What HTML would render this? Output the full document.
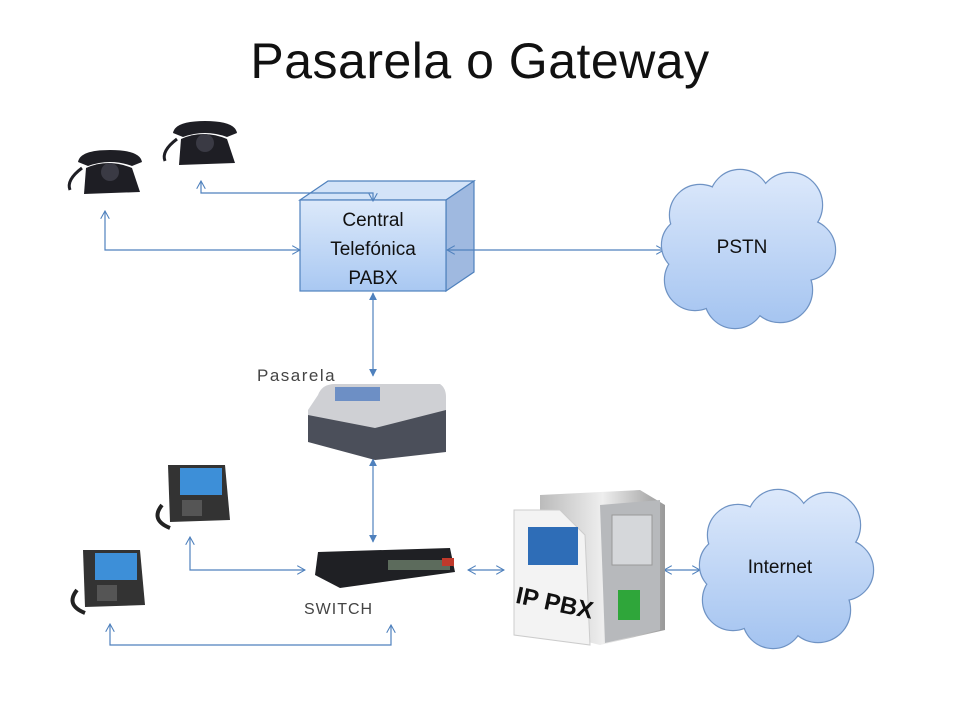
<!DOCTYPE html>
<html><head><meta charset="utf-8"><style>
html,body{margin:0;padding:0;background:#fff;}
svg{display:block;font-family:"Liberation Sans",sans-serif;}
</style></head><body>
<svg width="960" height="720" viewBox="0 0 960 720" xmlns="http://www.w3.org/2000/svg">
<defs>
<linearGradient id="bx" x1="0" y1="0" x2="0" y2="1"><stop offset="0" stop-color="#dce9fa"/><stop offset="1" stop-color="#a9c8f2"/></linearGradient>
<linearGradient id="cl1" gradientUnits="userSpaceOnUse" x1="0" y1="170" x2="0" y2="330"><stop offset="0" stop-color="#dde9fb"/><stop offset="1" stop-color="#a3c3f0"/></linearGradient>
<linearGradient id="cl2" gradientUnits="userSpaceOnUse" x1="0" y1="490" x2="0" y2="650"><stop offset="0" stop-color="#dde9fb"/><stop offset="1" stop-color="#a3c3f0"/></linearGradient>
<linearGradient id="srv" x1="0" y1="0" x2="1" y2="0"><stop offset="0" stop-color="#bbb"/><stop offset="0.5" stop-color="#eee"/><stop offset="1" stop-color="#999"/></linearGradient>
<marker id="a" viewBox="0 0 10 10" refX="9" refY="5" markerWidth="9" markerHeight="9" orient="auto-start-reverse" markerUnits="userSpaceOnUse"><path d="M0,0 L9,5 L0,10" fill="none" stroke="#4f81bd" stroke-width="1.2"/></marker>
<marker id="f" viewBox="0 0 10 10" refX="9" refY="5" markerWidth="8" markerHeight="8" orient="auto-start-reverse" markerUnits="userSpaceOnUse"><path d="M0,0 L10,5 L0,10z" fill="#4f81bd"/></marker>
</defs>
<text x="480" y="78" font-size="50" text-anchor="middle" fill="#111" letter-spacing="0.5">Pasarela o Gateway</text>

<!-- PABX box -->
<polygon points="300,200 328,181 474,181 446,200" fill="#d3e3f8" stroke="#4f81bd" stroke-width="1.2"/>
<polygon points="446,200 474,181 474,272 446,291" fill="#9fb9e0" stroke="#4f81bd" stroke-width="1.2"/>
<rect x="300" y="200" width="146" height="91" fill="url(#bx)" stroke="#4f81bd" stroke-width="1.2"/>
<g font-size="19" text-anchor="middle" fill="#111">
<text x="373" y="226">Central</text><text x="373" y="255">Telefónica</text><text x="373" y="284">PABX</text></g>

<!-- connectors -->
<g stroke="#4f81bd" stroke-width="1.2" fill="none">
<polyline points="105,211 105,250 300,250" marker-start="url(#a)" marker-end="url(#a)"/>
<polyline points="201,181 201,193 373,193 373,201" marker-start="url(#a)" marker-end="url(#a)"/>
<line x1="447" y1="250" x2="664" y2="250" marker-start="url(#a)" marker-end="url(#a)"/>
<line x1="373" y1="293" x2="373" y2="376" marker-start="url(#f)" marker-end="url(#f)"/>
<line x1="373" y1="459" x2="373" y2="542" marker-start="url(#f)" marker-end="url(#f)"/>
<polyline points="190,537 190,570 305,570" marker-start="url(#a)" marker-end="url(#a)"/>
<polyline points="110,624 110,645 391,645 391,625" marker-start="url(#a)" marker-end="url(#a)"/>
<line x1="468" y1="570" x2="504" y2="570" marker-start="url(#a)" marker-end="url(#a)"/>
<line x1="664" y1="570" x2="700" y2="570" marker-start="url(#a)" marker-end="url(#a)"/>
</g>

<!-- clouds -->
<g>
<g stroke="#6f93c4" stroke-width="2.4" fill="none">
<circle cx="700" cy="215" r="30"/><circle cx="740" cy="200" r="30"/><circle cx="790" cy="205" r="32"/><circle cx="805" cy="250" r="30"/><circle cx="780" cy="290" r="32"/><circle cx="735" cy="298" r="30"/><circle cx="695" cy="280" r="30"/><circle cx="690" cy="245" r="28"/></g>
<g fill="url(#cl1)">
<circle cx="700" cy="215" r="30"/><circle cx="740" cy="200" r="30"/><circle cx="790" cy="205" r="32"/><circle cx="805" cy="250" r="30"/><circle cx="780" cy="290" r="32"/><circle cx="735" cy="298" r="30"/><circle cx="695" cy="280" r="30"/><circle cx="690" cy="245" r="28"/><rect x="690" y="210" width="110" height="85"/></g>
<text x="742" y="253" font-size="19" text-anchor="middle" fill="#111">PSTN</text>
</g>
<g>
<g stroke="#6f93c4" stroke-width="2.4" fill="none">
<circle cx="738" cy="535" r="30"/><circle cx="778" cy="520" r="30"/><circle cx="828" cy="525" r="32"/><circle cx="843" cy="570" r="30"/><circle cx="818" cy="610" r="32"/><circle cx="773" cy="618" r="30"/><circle cx="733" cy="600" r="30"/><circle cx="728" cy="565" r="28"/></g>
<g fill="url(#cl2)">
<circle cx="738" cy="535" r="30"/><circle cx="778" cy="520" r="30"/><circle cx="828" cy="525" r="32"/><circle cx="843" cy="570" r="30"/><circle cx="818" cy="610" r="32"/><circle cx="773" cy="618" r="30"/><circle cx="733" cy="600" r="30"/><circle cx="728" cy="565" r="28"/><rect x="728" y="530" width="110" height="85"/></g>
<text x="780" y="573" font-size="19" text-anchor="middle" fill="#111">Internet</text>
</g>

<!-- old phones -->
<g fill="#1e1e24">
<path d="M86,168 Q108,158 132,168 L140,192 L84,194 Z"/><path d="M78,162 Q80,150 110,150 Q140,150 142,162 L132,166 Q110,158 88,166 Z"/><circle cx="110" cy="172" r="9" fill="#3a3a44"/><path d="M82,168 Q66,180 70,190" stroke="#1e1e24" stroke-width="3" fill="none"/>
<path d="M181,139 Q203,129 227,139 L235,163 L179,165 Z"/><path d="M173,133 Q175,121 205,121 Q235,121 237,133 L227,137 Q205,129 183,137 Z"/><circle cx="205" cy="143" r="9" fill="#3a3a44"/><path d="M177,139 Q161,151 165,161" stroke="#1e1e24" stroke-width="3" fill="none"/>
</g>

<!-- Pasarela -->
<text x="257" y="381" font-size="17" fill="#444" letter-spacing="1.5">Pasarela</text>
<path d="M318,395 Q322,384 335,384 L440,384 Q446,388 446,397 L446,450 L375,458 L308,440 L308,410 Z" fill="#cfd0d4"/>
<path d="M308,415 L375,428 L446,410 L446,452 L375,460 L308,442 Z" fill="#4b4f5a"/>
<rect x="335" y="387" width="45" height="14" fill="#6d8fc5"/>

<!-- IP phones -->
<g>
<path d="M168,465 L225,465 L230,520 L170,522 Z" fill="#333"/><rect x="180" y="468" width="42" height="27" fill="#3d8fd8"/><rect x="182" y="500" width="20" height="16" fill="#555"/><path d="M162,505 Q150,520 170,528" stroke="#222" stroke-width="4" fill="none"/>
<path d="M83,550 L140,550 L145,605 L85,607 Z" fill="#333"/><rect x="95" y="553" width="42" height="27" fill="#3d8fd8"/><rect x="97" y="585" width="20" height="16" fill="#555"/><path d="M77,590 Q65,605 85,613" stroke="#222" stroke-width="4" fill="none"/>
</g>

<!-- switch -->
<path d="M318,552 L450,548 L455,572 L340,588 L315,575 Z" fill="#1f2024"/>
<rect x="388" y="560" width="62" height="10" fill="#5c6b5c"/>
<rect x="442" y="558" width="12" height="8" fill="#c0392b"/>
<text x="304" y="614" font-size="16" fill="#444" letter-spacing="1">SWITCH</text>

<!-- IP PBX -->
<path d="M540,495 L640,490 L665,505 L665,630 L600,645 L540,630 Z" fill="url(#srv)"/>
<path d="M600,505 L660,500 L660,630 L605,643 Z" fill="#b7b9bc"/>
<rect x="612" y="515" width="40" height="50" fill="#d5d7da" stroke="#999"/>
<rect x="618" y="590" width="22" height="30" fill="#2fa63a"/>
<path d="M514,510 L560,510 L585,535 L590,645 L514,635 Z" fill="#f3f3f3" stroke="#ccc"/>
<rect x="528" y="527" width="50" height="38" fill="#2e6db7"/>
<text x="515" y="610" font-size="24" font-weight="bold" fill="#111" transform="rotate(12 550 605)">IP PBX</text>
</svg>
</body></html>
